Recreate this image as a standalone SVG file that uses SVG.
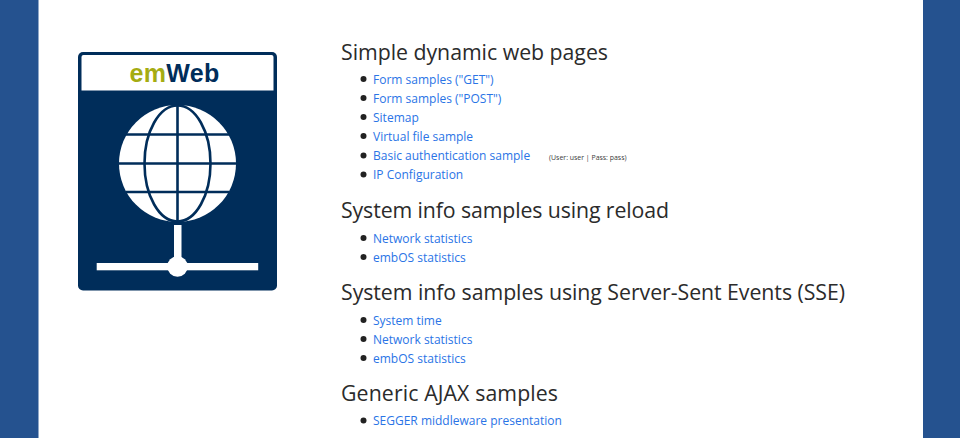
<svg xmlns="http://www.w3.org/2000/svg" width="960" height="438" viewBox="0 0 960 438">
<style>
text{font-family:"Open Sans","Noto Sans","Liberation Sans",sans-serif}
.h{font-size:21.300px;fill:#2b2b2b}
.l{font-size:12px;fill:#2a74e6}
.n{font-size:6.950px;fill:#3a3a3a}
.b{fill:#222}
.g{fill:none;stroke:#002d5a;stroke-width:2.600}
</style>
<rect width="960" height="438" fill="#fff"/>
<rect id="band-left" width="38.500" height="438" fill="#25528f"/>
<rect id="band-right" x="923" width="37" height="438" fill="#25528f"/>
<g id="logo">
<rect x="78" y="52" width="199" height="238.500" rx="5" fill="#002d5a"/>
<path d="M81.500 90.500V57a2 2 0 0 1 2-2H271.500a2 2 0 0 1 2 2V90.500Z" fill="#fff"/>
<text x="129.500" y="81.800" style="font-family:'Liberation Sans',sans-serif;font-size:25px;font-weight:700;letter-spacing:.3px"><tspan fill="#a5ac12">em</tspan><tspan fill="#002d5a">Web</tspan></text>
<circle cx="177.500" cy="163.500" r="58.500" fill="#fff"/>
<ellipse class="g" cx="177.500" cy="163.500" rx="33" ry="58"/>
<path class="g" d="M177.500 105.500V222M119 163.500H236M126 134.500H229M126 192H229"/>
<rect x="174" y="225" width="7.500" height="42" fill="#fff"/>
<rect x="96.700" y="263" width="161.500" height="7.300" fill="#fff"/>
<circle cx="177.500" cy="266.500" r="10.300" fill="#fff"/>
</g>
<g id="section-1">
<text class="h" x="341" y="60" textLength="267">Simple dynamic web pages</text>
<circle class="b" cx="363.500" cy="79" r="3"/><text class="l" x="373" y="84">Form samples ("GET")</text>
<circle class="b" cx="363.500" cy="98" r="3"/><text class="l" x="373" y="103">Form samples ("POST")</text>
<circle class="b" cx="363.500" cy="117" r="3"/><text class="l" x="373" y="122">Sitemap</text>
<circle class="b" cx="363.500" cy="136" r="3"/><text class="l" x="373" y="141">Virtual file sample</text>
<circle class="b" cx="363.500" cy="155.500" r="3"/><text class="l" x="373" y="160">Basic authentication sample</text>
<text class="n" x="549" y="160">(User: user | Pass: pass)</text>
<circle class="b" cx="363.500" cy="174.500" r="3"/><text class="l" x="373" y="179">IP Configuration</text>
</g>
<g id="section-2">
<text class="h" x="341" y="218" textLength="328">System info samples using reload</text>
<circle class="b" cx="363.500" cy="238" r="3"/><text class="l" x="373" y="242.500">Network statistics</text>
<circle class="b" cx="363.500" cy="257" r="3"/><text class="l" x="373" y="261.500">embOS statistics</text>
</g>
<g id="section-3">
<text class="h" x="341" y="300" textLength="504">System info samples using Server-Sent Events (SSE)</text>
<circle class="b" cx="363.500" cy="320" r="3"/><text class="l" x="373" y="324.500">System time</text>
<circle class="b" cx="363.500" cy="339" r="3"/><text class="l" x="373" y="343.500">Network statistics</text>
<circle class="b" cx="363.500" cy="358" r="3"/><text class="l" x="373" y="362.500">embOS statistics</text>
</g>
<g id="section-4">
<text class="h" x="341" y="401" textLength="217">Generic AJAX samples</text>
<circle class="b" cx="363.500" cy="420.500" r="3"/><text class="l" x="373" y="425">SEGGER middleware presentation</text>
</g>
</svg>
